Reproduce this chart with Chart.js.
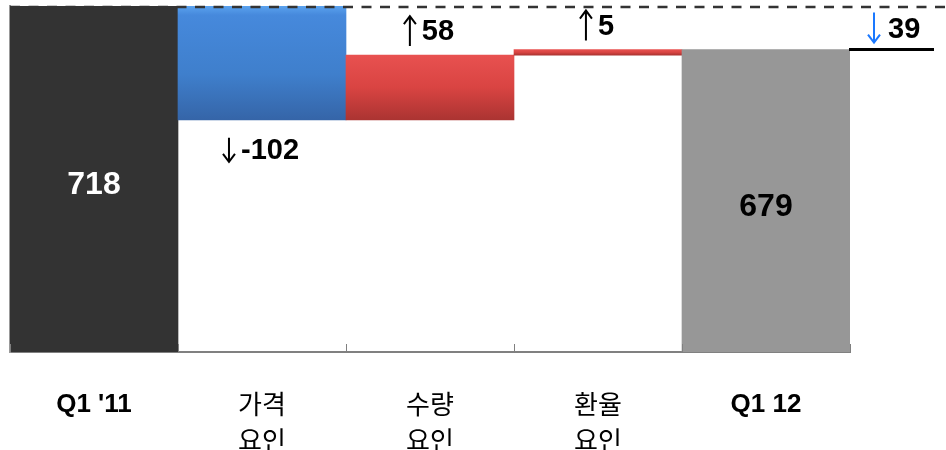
<!DOCTYPE html>
<html>
<head>
<meta charset="utf-8">
<script src="https://cdn.jsdelivr.net/npm/chart.js@4"></script>
<style>
  html, body { margin: 0; padding: 0; background: #fff; }
  #wrap { width: 946px; height: 450px; }
</style>
</head>
<body>
<div id="wrap"><canvas id="waterfall"></canvas></div>
<script>
// datos del gráfico
const categories = [["Q1 '11"], ['가격', '요인'], ['수량', '요인'], ['환율', '요인'], ['Q1 12']];
const barKinds = ['total', 'delta', 'delta', 'delta', 'total'];
const barValues = [718, -102, 58, 5, 679];
const finalChange = -39;       // Q1 12 vs Q1 '11
const axisMin = 408;           // the value axis does not start at zero
const axisMax = 718;

// rangos flotantes calculados a partir de los valores
let running = 0;
const ranges = barValues.map((v, i) => {
  if (barKinds[i] === 'total') { running = v; return [axisMin, v]; }
  const r = [running, running + v];
  running += v;
  return r;
});

const LATIN = "'Liberation Sans', Arial, sans-serif";
const HANGUL = "'Noto Sans CJK KR', 'Liberation Sans', sans-serif";

function fillFor(ctx) {
  const i = ctx.dataIndex;
  const chart = ctx.chart;
  if (barKinds[i] === 'total') return i === 0 ? '#333333' : '#979797';
  const area = chart.chartArea;
  if (!area) return barValues[i] < 0 ? '#4186d8' : '#d94342';
  const y = chart.scales.y;
  const r = ranges[i];
  const top = y.getPixelForValue(Math.max(r[0], r[1]));
  const bot = y.getPixelForValue(Math.min(r[0], r[1]));
  const g = chart.ctx.createLinearGradient(0, top, 0, bot + 0.01);
  if (barValues[i] < 0) {
    g.addColorStop(0, '#5aa2ee');
    g.addColorStop(0.08, '#4689dc');
    g.addColorStop(0.6, '#3f7fcc');
    g.addColorStop(1, '#3565a8');
  } else {
    g.addColorStop(0, '#e85150');
    g.addColorStop(0.5, '#d94442');
    g.addColorStop(1, '#ab3432');
  }
  return g;
}

function arrow(c, x, yTop, yBot, up, color) {
  c.save();
  c.strokeStyle = color;
  c.lineWidth = 2;
  c.beginPath();
  c.moveTo(x, yTop);
  c.lineTo(x, yBot);
  if (up) {
    c.moveTo(x - 6, yTop + 8); c.lineTo(x, yTop); c.lineTo(x + 6, yTop + 8);
  } else {
    c.moveTo(x - 6, yBot - 8); c.lineTo(x, yBot); c.lineTo(x + 6, yBot - 8);
  }
  c.stroke();
  c.restore();
}

const decorations = {
  id: 'decorations',
  afterDatasetsDraw(chart) {
    const c = chart.ctx;
    const area = chart.chartArea;
    const y = chart.scales.y;
    const meta = chart.getDatasetMeta(0);

    // marcas del eje x entre categorías
    c.save();
    c.strokeStyle = '#808080';
    c.lineWidth = 1;
    for (let i = 0; i <= categories.length; i++) {
      const px = Math.round(area.left + (area.right - area.left) * i / categories.length) + 0.5;
      c.beginPath();
      c.moveTo(px, area.bottom - 8);
      c.lineTo(px, area.bottom);
      c.stroke();
    }
    c.restore();

    // línea punteada al nivel inicial
    const yStart = y.getPixelForValue(barValues[0]);
    c.save();
    c.strokeStyle = '#333';
    c.lineWidth = 2.5;
    c.setLineDash([10, 8.5]);
    c.beginPath();
    c.moveTo(area.left, yStart + 1);
    c.lineTo(chart.width, yStart + 1);
    c.stroke();
    c.restore();

    // etiquetas
    c.save();
    c.textBaseline = 'middle';
    meta.data.forEach((bar, i) => {
      const v = barValues[i];
      if (barKinds[i] === 'total') {
        c.font = 'bold 32px ' + LATIN;
        c.fillStyle = i === 0 ? '#ffffff' : '#000000';
        c.textAlign = 'center';
        c.fillText(String(v), bar.x, (bar.y + bar.base) / 2 + 6);
        return;
      }
      const txt = String(v);
      c.font = 'bold 29px ' + LATIN;
      const tw = c.measureText(txt).width;
      const groupW = 16 + tw;
      const gx = bar.x - groupW / 2;
      const top = Math.min(bar.y, bar.base);
      const bot = Math.max(bar.y, bar.base);
      let cy;
      if (v > 0) {
        cy = top - 24;
        arrow(c, gx + 4, cy - 15, cy + 15, true, '#000');
      } else {
        cy = bot + 30;
        arrow(c, gx + 4, cy - 12, cy + 12, false, '#000');
      }
      c.fillStyle = '#000';
      c.textAlign = 'left';
      c.fillText(txt, gx + 16, cy + 1);
    });
    c.restore();

    // cambio total a la derecha
    const yEnd = y.getPixelForValue(barValues[barValues.length - 1]);
    c.save();
    c.strokeStyle = '#000';
    c.lineWidth = 3;
    c.beginPath();
    c.moveTo(area.right - 1, yEnd);
    c.lineTo(area.right + 84, yEnd);
    c.stroke();
    arrow(c, area.right + 24, yEnd - 37, yEnd - 7, false, '#1a78ff');
    c.font = 'bold 29px ' + LATIN;
    c.fillStyle = '#000';
    c.textAlign = 'left';
    c.textBaseline = 'middle';
    c.fillText(String(Math.abs(finalChange)), area.right + 38, yEnd - 20);
    c.restore();
  }
};

new Chart(document.getElementById('waterfall').getContext('2d'), {
  type: 'bar',
  data: {
    labels: categories,
    datasets: [{
      data: ranges,
      backgroundColor: fillFor,
      borderWidth: 0,
      barPercentage: 1,
      categoryPercentage: 1
    }]
  },
  options: {
    responsive: true,
    maintainAspectRatio: false,
    animation: false,
    layout: { padding: { top: 6, left: 10, right: 96, bottom: 0 } },
    plugins: { legend: { display: false }, tooltip: { enabled: false } },
    scales: {
      x: {
        grid: { display: false, drawTicks: false },
        border: { color: '#808080', width: 2 },
        afterFit: (scale) => { scale.height = 98; },
        ticks: {
          padding: 35,
          color: '#000',
          font: (ctx) => {
            const lab = categories[ctx.index] || [''];
            return /[가-힣]/.test(lab[0])
              ? { family: HANGUL, size: 26, weight: 'normal', lineHeight: 1.35 }
              : { family: LATIN, size: 26, weight: 'bold', lineHeight: 1.35 };
          }
        }
      },
      y: {
        min: axisMin,
        max: axisMax,
        grid: { display: false, drawTicks: false },
        border: { color: '#999999', width: 2 },
        ticks: { display: false }
      }
    }
  },
  plugins: [decorations]
});
</script>
</body>
</html>
